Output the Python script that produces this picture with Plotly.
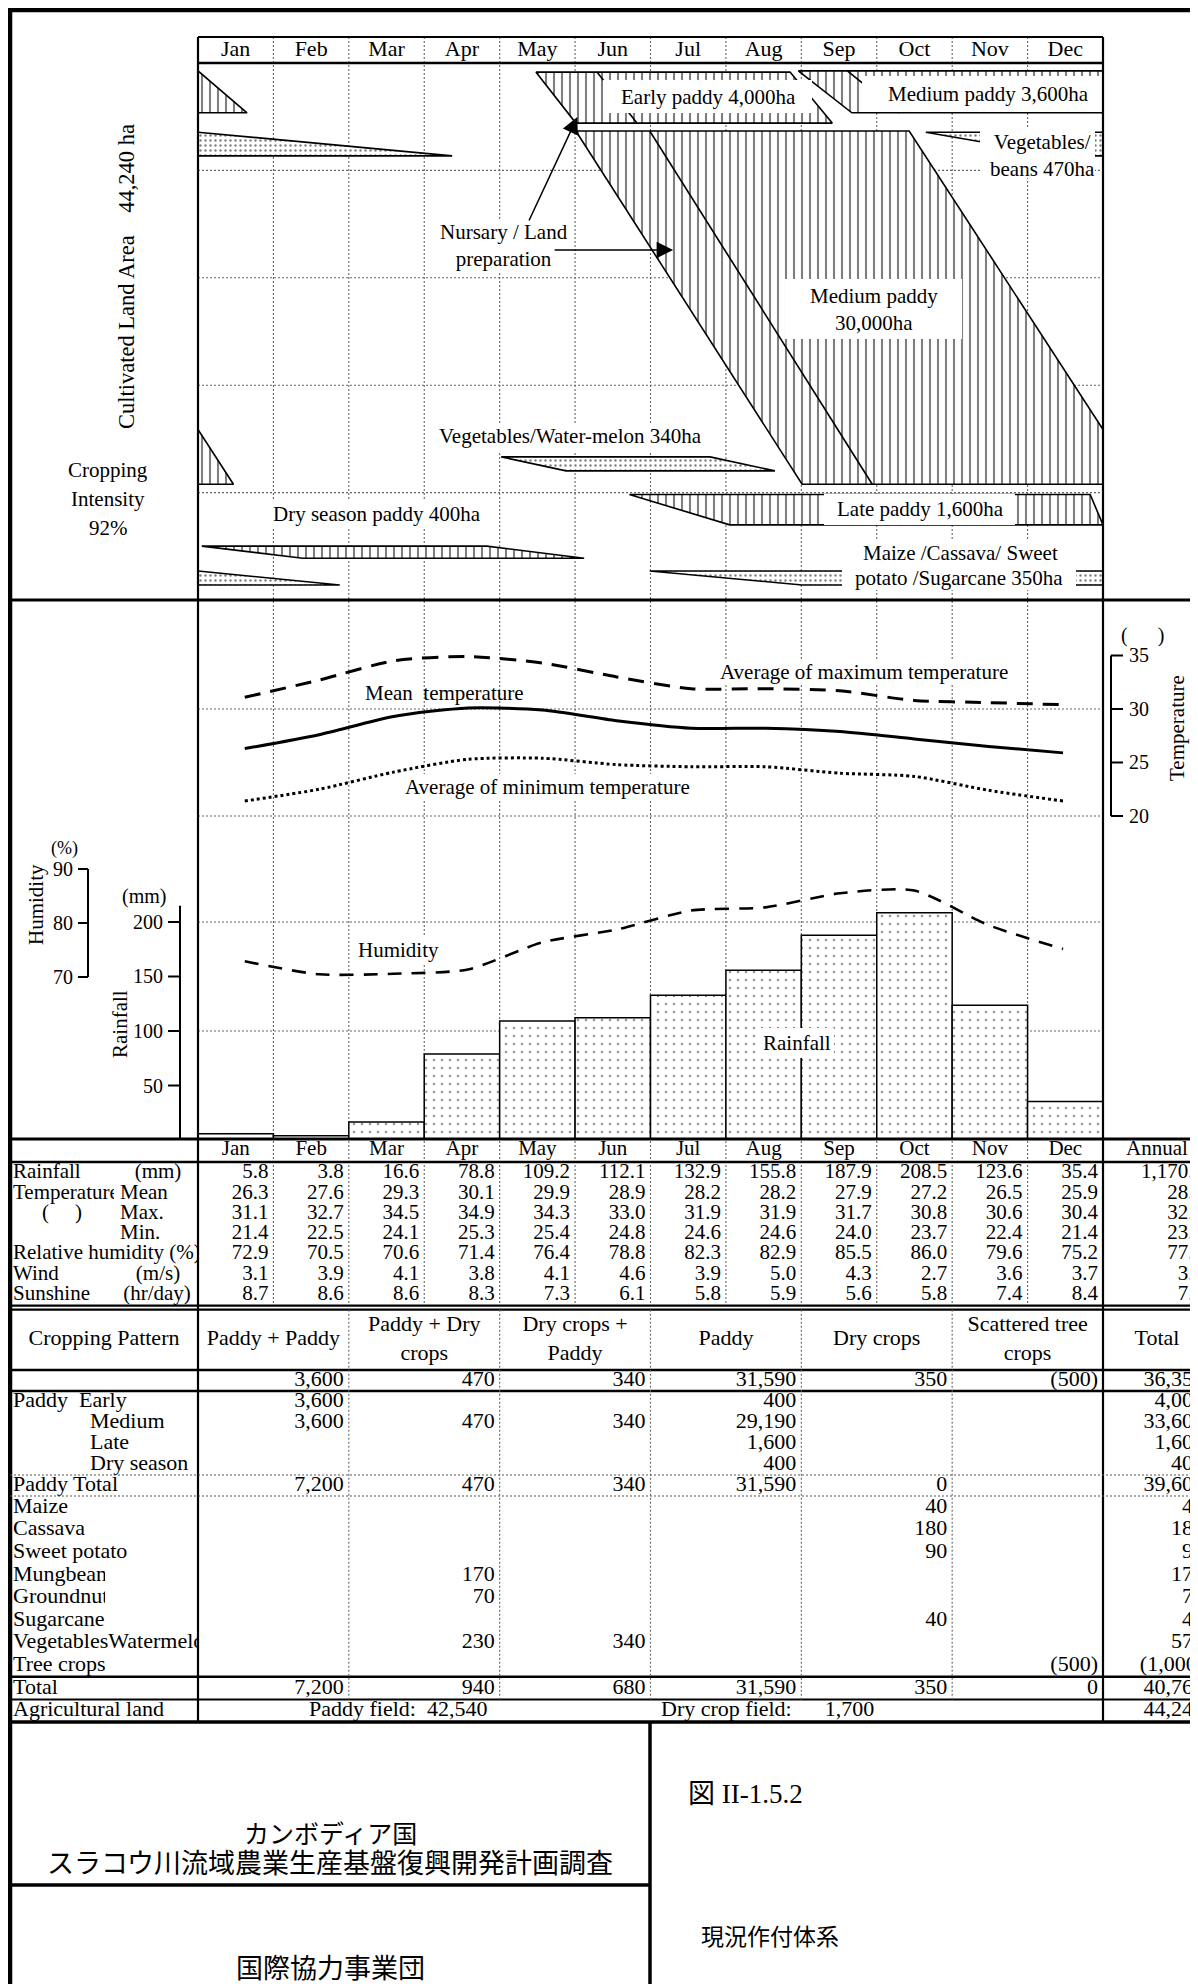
import plotly.graph_objects as go

# page geometry: the figure sits at (8, 8) inside the browser page
OFF = 8
SCREEN_W, SCREEN_H = 1198, 1984
FW, FH = SCREEN_W - OFF, SCREEN_H - OFF
SERIF = "Liberation Serif"
JP = "Noto Sans CJK JP"

# ----------------------------- data -----------------------------
months = ["Jan", "Feb", "Mar", "Apr", "May", "Jun", "Jul", "Aug", "Sep", "Oct", "Nov", "Dec"]

rainfall_mm = [5.8, 3.8, 16.6, 78.8, 109.2, 112.1, 132.9, 155.8, 187.9, 208.5, 123.6, 35.4]
temp_mean = [26.3, 27.6, 29.3, 30.1, 29.9, 28.9, 28.2, 28.2, 27.9, 27.2, 26.5, 25.9]
temp_max = [31.1, 32.7, 34.5, 34.9, 34.3, 33.0, 31.9, 31.9, 31.7, 30.8, 30.6, 30.4]
temp_min = [21.4, 22.5, 24.1, 25.3, 25.4, 24.8, 24.6, 24.6, 24.0, 23.7, 22.4, 21.4]
humidity_pct = [72.9, 70.5, 70.6, 71.4, 76.4, 78.8, 82.3, 82.9, 85.5, 86.0, 79.6, 75.2]
wind_ms = [3.1, 3.9, 4.1, 3.8, 4.1, 4.6, 3.9, 5.0, 4.3, 2.7, 3.6, 3.7]
sunshine_hr = [8.7, 8.6, 8.6, 8.3, 7.3, 6.1, 5.8, 5.9, 5.6, 5.8, 7.4, 8.4]
annual_values = ["1,170.4", "28.0", "32.3", "23.7", "77.7", "3.9", "7.2"]

rain_ticks = [50, 100, 150, 200]
temp_ticks = [20, 25, 30, 35]
hum_ticks = [70, 80, 90]

# crop calendar (x in months from 1 Jan, y in cumulative ha from the top)
cultivated_ha = 44240
crop_names = ["Early paddy", "Medium paddy (P+P)", "Medium paddy", "Vegetables/beans",
              "Vegetables/Water-melon", "Late paddy", "Dry season paddy", "Maize etc."]
crop_top_ha = [750, 650, 5600, 5700, 32450, 35550, 39800, 41850]
crop_bottom_ha = [4950, 4100, 34700, 7650, 33600, 38050, 40800, 43000]
plant_start = [4.48, 7.96, 5.01, 9.65, 4.02, 5.72, 0.05, 5.99]
plant_end = [5.01, 8.67, 8.01, 11.45, 4.88, 7.05, 1.39, 8.01]
harvest_start = [7.85, 12.00, 9.43, 12.00, 6.79, 11.83, 3.83, 12.00]
harvest_end = [8.41, 12.65, 12.47, 15.37, 7.65, 12.00, 5.12, 13.88]
crop_fill = ["stripes", "stripes", "stripes", "dots", "dots", "stripes", "stripes", "dots"]
transplant_top = [5.29, 8.61, 5.99, None, None, None, None, None]
transplant_bottom = [5.82, 9.30, 8.94, None, None, None, None, None]

# cropping pattern table
pattern_headers = ["Paddy + Paddy", "Paddy + Dry<br>crops", "Dry crops +<br>Paddy", "Paddy",
                   "Dry crops", "Scattered tree<br>crops", "Total"]
pattern_area = ["3,600", "470", "340", "31,590", "350", "(500)", "36,350"]
paddy_early = ["3,600", "", "", "400", "", "", "4,000"]
paddy_medium = ["3,600", "470", "340", "29,190", "", "", "33,600"]
paddy_late = ["", "", "", "1,600", "", "", "1,600"]
paddy_dry = ["", "", "", "400", "", "", "400"]
paddy_total = ["7,200", "470", "340", "31,590", "0", "", "39,600"]
maize = ["", "", "", "", "40", "", "40"]
cassava = ["", "", "", "", "180", "", "180"]
sweet_potato = ["", "", "", "", "90", "", "90"]
mungbean = ["", "170", "", "", "", "", "170"]
groundnut = ["", "70", "", "", "", "", "70"]
sugarcane = ["", "", "", "", "40", "", "40"]
veg_watermelon = ["", "230", "340", "", "", "", "570"]
tree_crops = ["", "", "", "", "", "(500)", "(1,000)"]
grand_total = ["7,200", "940", "680", "31,590", "350", "0", "40,760"]
paddy_field_ha = "42,540"
dry_field_ha = "1,700"
agri_land_total = "44,240"

# ----------------------------- layout geometry (screen px) -----------------------------
def PX(x):
    return (x - OFF) / FW


def PY(y):
    return 1 - (y - OFF) / FH


X0, X1 = 198, 1103
MW = (X1 - X0) / 12.0
LEFT = 10
CROP_Y0, CROP_Y1 = 63, 600
CLIM_Y0, CLIM_Y1 = 600, 1140
RAIN_PX = 1.09
RAIN_TOP = (CLIM_Y1 - CLIM_Y0) / RAIN_PX
T_REF_Y, T_PX = 816, 10.7
T_BOT = 20 - (CLIM_Y1 - T_REF_Y) / T_PX
T_TOP = 20 + (T_REF_Y - CLIM_Y0) / T_PX
RH_REF_Y, RH_PX = 923, 5.4
RH_BOT = 80 - (CLIM_Y1 - RH_REF_Y) / RH_PX
RH_TOP = 80 + (RH_REF_Y - CLIM_Y0) / RH_PX
LINE_X0, LINE_X1 = 0.62, 11.47

CT_HEAD_Y = 1150
CT_ROW_H = 20.24
CT_TOP = 1163
CT_ROWS_Y = [CT_TOP + CT_ROW_H * (i + 0.5) for i in range(7)]
CT_BOT = CT_TOP + 7 * CT_ROW_H
CP_HEAD_TOP, CP_HEAD_BOT = CT_BOT + 5, 1370
CP_HEAD_Y = (CP_HEAD_TOP + CP_HEAD_BOT) / 2
CP_ROW = 21.0          # upper block rows
CP_ROW2 = 22.6         # lower block rows
r0 = CP_HEAD_BOT
CP_AREA_Y = r0 + CP_ROW * 0.5
CP_PADDY_Y = [r0 + CP_ROW * (1.5 + i) for i in range(4)]
CP_PTOT_Y = r0 + CP_ROW * 5.5
CB = r0 + CP_ROW * 6
CP_CROP_Y = [CB + CP_ROW2 * (i + 0.5) for i in range(8)]
CB_END = CB + CP_ROW2 * 8
CP_TOT_Y = CB_END + CP_ROW2 * 0.5
CP_AGRI_Y = CB_END + CP_ROW2 * 1.5
TITLE_TOP = CB_END + CP_ROW2 * 2
TITLE_SEP = 1885
ANNUAL_RIGHT = 1204
ANNUAL_CENTER = 1157

fig = go.Figure()
shapes = []
annotations = []

STRIPES = dict(shape="|", size=8, solidity=0.26, fgcolor="black", bgcolor="white")
DOTS = dict(shape=".", size=5, solidity=0.18, fgcolor="black", bgcolor="white")


def hline(y, x0, x1, w=2.0, dash="solid", color="black", layer="above"):
    shapes.append(dict(type="line", xref="paper", yref="paper", x0=PX(x0), x1=PX(x1),
                       y0=PY(y), y1=PY(y), line=dict(color=color, width=w, dash=dash), layer=layer))


def vline(x, y0, y1, w=2.0, dash="solid", color="black", layer="above"):
    shapes.append(dict(type="line", xref="paper", yref="paper", x0=PX(x), x1=PX(x),
                       y0=PY(y0), y1=PY(y1), line=dict(color=color, width=w, dash=dash), layer=layer))


def white_box(x0, y0, x1, y1, layer="above"):
    shapes.append(dict(type="rect", xref="paper", yref="paper", x0=PX(x0), x1=PX(x1),
                       y0=PY(y1), y1=PY(y0), fillcolor="white", line=dict(width=0), layer=layer))


def ann(x, y, text, size=21, family=SERIF, xanchor="center", bg=None, angle=0, pad=1):
    d = dict(x=PX(x), y=PY(y), xref="paper", yref="paper", text=text, showarrow=False,
             font=dict(family=family, size=size, color="black"), xanchor=xanchor, yanchor="middle",
             textangle=angle, borderpad=pad, borderwidth=0)
    if bg:
        d["bgcolor"] = bg
    annotations.append(d)


def txt(xs, ys, texts, pos, size=21, axes=("x5", "y5")):
    fig.add_trace(go.Scatter(x=xs, y=ys, text=texts, mode="text", textposition=pos,
                             textfont=dict(family=SERIF, size=size, color="black"),
                             xaxis=axes[0], yaxis=axes[1], hoverinfo="skip", showlegend=False,
                             cliponaxis=True))


GRID = dict(color="#666", width=1.1, dash="2px,2px")

# ----------------------------- crop calendar -----------------------------
for k in range(1, 12):
    shapes.append(dict(type="line", xref="x", yref="paper", x0=k, x1=k, y0=PY(37), y1=PY(CT_BOT),
                       line=GRID, layer="below"))
for k in range(1, 5):
    shapes.append(dict(type="line", xref="x", yref="y", x0=0, x1=12, y0=k * cultivated_ha / 5,
                       y1=k * cultivated_ha / 5, line=GRID, layer="below"))

for i in range(len(crop_names)):
    xs = [plant_start[i], harvest_start[i], harvest_end[i], plant_end[i], plant_start[i]]
    ys = [crop_top_ha[i], crop_top_ha[i], crop_bottom_ha[i], crop_bottom_ha[i], crop_top_ha[i]]
    shifts = [0, -12] if max(xs) > 12 else [0]
    pat = STRIPES if crop_fill[i] == "stripes" else DOTS
    for s in shifts:
        fig.add_trace(go.Scatter(x=[v + s for v in xs], y=ys, mode="lines", fill="toself",
                                 fillcolor="white", fillpattern=pat,
                                 line=dict(color="black", width=1.6),
                                 xaxis="x", yaxis="y", hoverinfo="skip", showlegend=False))
    if transplant_top[i] is not None:
        fig.add_trace(go.Scatter(x=[transplant_top[i], transplant_bottom[i]],
                                 y=[crop_top_ha[i], crop_bottom_ha[i]], mode="lines",
                                 line=dict(color="black", width=1.6), xaxis="x", yaxis="y",
                                 hoverinfo="skip", showlegend=False))

# ----------------------------- climate -----------------------------
centers = [k + 0.5 for k in range(12)]
line_x = [LINE_X0 + k * (LINE_X1 - LINE_X0) / 11 for k in range(12)]
for t in (20, 30):
    shapes.append(dict(type="line", xref="x", yref="y3", x0=0, x1=12, y0=t, y1=t, line=GRID, layer="below"))
for r in (100, 200):
    shapes.append(dict(type="line", xref="x", yref="y2", x0=0, x1=12, y0=r, y1=r, line=GRID, layer="below"))

fig.add_trace(go.Bar(x=centers, y=rainfall_mm, width=1.0,
                     marker=dict(color="white", line=dict(color="black", width=1.5),
                                 pattern=dict(shape=".", size=8, solidity=0.07, fgcolor="#222", bgcolor="white")),
                     xaxis="x", yaxis="y2", hoverinfo="skip", showlegend=False))
fig.add_trace(go.Scatter(x=line_x, y=humidity_pct, mode="lines", xaxis="x", yaxis="y4",
                         line=dict(color="black", width=2.6, dash="14px,10px", shape="spline", smoothing=0.7),
                         hoverinfo="skip", showlegend=False))
fig.add_trace(go.Scatter(x=line_x, y=temp_max, mode="lines", xaxis="x", yaxis="y3",
                         line=dict(color="black", width=3, dash="16px,10px", shape="spline", smoothing=0.7),
                         hoverinfo="skip", showlegend=False))
fig.add_trace(go.Scatter(x=line_x, y=temp_mean, mode="lines", xaxis="x", yaxis="y3",
                         line=dict(color="black", width=3, shape="spline", smoothing=0.7),
                         hoverinfo="skip", showlegend=False))
fig.add_trace(go.Scatter(x=line_x, y=temp_min, mode="lines", xaxis="x", yaxis="y3",
                         line=dict(color="black", width=3, dash="3px,3px", shape="spline", smoothing=0.7),
                         hoverinfo="skip", showlegend=False))


def axis_line(x, yref, v0, v1):
    shapes.append(dict(type="line", xref="paper", yref=yref, x0=PX(x), x1=PX(x), y0=v0, y1=v1,
                       line=dict(color="black", width=2)))


def axis_tick(x0, x1, yref, v):
    shapes.append(dict(type="line", xref="paper", yref=yref, x0=PX(x0), x1=PX(x1), y0=v, y1=v,
                       line=dict(color="black", width=2)))


def tick_label(x, yref, v, text, xanchor):
    annotations.append(dict(x=PX(x), xref="paper", y=v, yref=yref, text=text, showarrow=False,
                            xanchor=xanchor, yanchor="middle", font=dict(family=SERIF, size=20, color="black")))


axis_line(180, "y2", 0, 215)
for r in rain_ticks:
    axis_tick(168, 180, "y2", r)
    tick_label(165, "y2", r, str(r), "right")
axis_line(88, "y4", hum_ticks[0], hum_ticks[-1])
for h in hum_ticks:
    axis_tick(78, 88, "y4", h)
    tick_label(75, "y4", h, str(h), "right")
axis_line(1111, "y3", temp_ticks[0], temp_ticks[-1])
for t in temp_ticks:
    axis_tick(1111, 1123, "y3", t)
    tick_label(1127, "y3", t, str(t), "left")

# ----------------------------- label boxes in the crop calendar -----------------------------
white_box(603, 80, 812, 113)      # Early paddy
white_box(862, 76, 1102, 112)     # Medium paddy 3,600
white_box(980, 127, 1095, 178)    # Vegetables/beans
white_box(785, 279, 962, 339)     # Medium paddy 30,000
white_box(824, 494, 1015, 525)    # Late paddy
white_box(842, 566, 1076, 590)    # Maize ...
white_box(434, 425, 702, 451, layer="below")   # Vegetables/Water-melon (text drawn on top)

# ----------------------------- frame lines -----------------------------
hline(10, LEFT - 2, SCREEN_W + 5, w=4.5)
vline(LEFT, 8, SCREEN_H + 5, w=4.5)
hline(37, X0, X1, w=2)
hline(63, X0, X1, w=2.5)
vline(X0, 37, TITLE_TOP, w=2.2)
vline(X1, 37, TITLE_TOP, w=2.2)
hline(600, LEFT, SCREEN_W + 5, w=3)
hline(1139, LEFT, SCREEN_W + 5, w=3)
hline(1162, LEFT, SCREEN_W + 5, w=2.5)
hline(CT_BOT + 1, LEFT, SCREEN_W + 5, w=2.2)
hline(CT_BOT + 5, LEFT, SCREEN_W + 5, w=2.2)
hline(CP_HEAD_BOT, LEFT, SCREEN_W + 5, w=2.5)
hline(r0 + CP_ROW, LEFT, SCREEN_W + 5, w=2.5)
hline(r0 + CP_ROW * 5, LEFT, SCREEN_W + 5, w=1.2, dash="2px,2px", color="#555")
hline(CB, LEFT, SCREEN_W + 5, w=1.2, dash="2px,2px", color="#555")
hline(CB_END, LEFT, SCREEN_W + 5, w=2.5)
hline(CB_END + CP_ROW2, LEFT, SCREEN_W + 5, w=2.0)
hline(TITLE_TOP, LEFT, SCREEN_W + 5, w=3.5)
hline(TITLE_SEP, LEFT, 650, w=3.5)
vline(650, TITLE_TOP, SCREEN_H + 5, w=3.5)
for j in range(1, 6):
    vline(X0 + 2 * j * MW, CT_BOT + 5, CB_END + CP_ROW2, w=1.1, dash="2px,2px", color="#666")

# ----------------------------- top section text -----------------------------
txt([X0 + (k + 0.5) * MW for k in range(12)], [50] * 12, months, "middle center", size=22)

ann(127, 277, "Cultivated Land Area" + "\u00a0" * 4 + "44,240 ha", size=22.5, angle=-90)
ann(108, 470, "Cropping")
ann(108, 499, "Intensity")
ann(108, 528, "92%")

ann(708, 97, "Early paddy 4,000ha")
ann(988, 94, "Medium paddy 3,600ha")
ann(1042, 155, "Vegetables/<br>beans 470ha")
ann(874, 309, "Medium paddy<br>30,000ha")
ann(504, 245, "Nursary / Land<br>preparation", bg="white", pad=0)
txt([439], [438], ["Vegetables/Water-melon 340ha"], "middle right", size=21, axes=("x9", "y9"))
ann(920, 509, "Late paddy 1,600ha")
ann(272, 514, "Dry season paddy 400ha", xanchor="left", bg="white", pad=1)
ann(960, 553, "Maize /Cassava/ Sweet", bg="white", pad=1)
ann(959, 578, "potato /Sugarcane 350ha")

annotations.append(dict(x=5.03, y=4450, xref="x", yref="y", ax=-49, ay=105, text="", showarrow=True,
                        arrowhead=2, arrowsize=2.2, arrowwidth=1.5, arrowcolor="black"))
annotations.append(dict(x=6.30, y=15400, xref="x", yref="y", ax=-120, ay=0, text="", showarrow=True,
                        arrowhead=2, arrowsize=2.2, arrowwidth=1.5, arrowcolor="black"))

# ----------------------------- climate text -----------------------------
ann(719, 672, "Average of maximum temperature", xanchor="left", bg="white", pad=1)
ann(364, 693, "Mean\u00a0\u00a0temperature", xanchor="left")
ann(404, 787, "Average of minimum temperature", xanchor="left", bg="white", pad=1)
ann(357, 950, "Humidity", xanchor="left", bg="white", pad=1)
ann(797, 1043, "Rainfall", bg="white", pad=3)
ann(64, 848, "(%)", size=18)
ann(144, 896, "(mm)", size=20)
ann(36, 905, "Humidity", angle=-90)
ann(120, 1024, "Rainfall", angle=-90)
ann(1142, 635, "(\u00a0\u00a0\u00a0\u00a0\u00a0\u00a0)", size=20)
ann(1177, 728, "Temperature", angle=-90)

# ----------------------------- climate table -----------------------------
txt([X0 + (k + 0.5) * MW for k in range(12)] + [ANNUAL_CENTER], [CT_HEAD_Y] * 13,
    months + ["Annual"], "middle center", size=21)
climate_rows = [rainfall_mm, temp_mean, temp_max, temp_min, humidity_pct, wind_ms, sunshine_hr]
for r, row in enumerate(climate_rows):
    xs = [X0 + (k + 1) * MW - 5 for k in range(12)] + [ANNUAL_RIGHT]
    vals = [f"{v:.1f}" for v in row] + [annual_values[r]]
    txt(xs, [CT_ROWS_Y[r]] * 13, vals, "middle left", size=21)

LBL = ("x6", "y6")
LBL_A = ("x7", "y7")
LBL_B = ("x8", "y8")
txt([13, 13, 13, 13], [CT_ROWS_Y[0], CT_ROWS_Y[4], CT_ROWS_Y[5], CT_ROWS_Y[6]],
    ["Rainfall", "Relative humidity (%)", "Wind", "Sunshine"], "middle right", size=21, axes=LBL)
txt([13], [CT_ROWS_Y[1]], ["Temperature"], "middle right", size=21, axes=LBL_A)
txt([120, 120, 120], [CT_ROWS_Y[1], CT_ROWS_Y[2], CT_ROWS_Y[3]], ["Mean", "Max.", "Min."],
    "middle right", size=21, axes=LBL)
txt([158, 62, 158, 157], [CT_ROWS_Y[0], CT_ROWS_Y[2], CT_ROWS_Y[5], CT_ROWS_Y[6]],
    ["(mm)", "(\u00a0\u00a0\u00a0\u00a0\u00a0)", "(m/s)", "(hr/day)"], "middle center", size=21, axes=LBL)

# ----------------------------- cropping pattern table -----------------------------
CS = 22
col_centers = [X0 + (2 * j + 1) * MW for j in range(6)] + [ANNUAL_CENTER]
col_rights = [X0 + 2 * (j + 1) * MW - 5 for j in range(6)] + [ANNUAL_RIGHT]
txt([104], [CP_HEAD_Y], ["Cropping Pattern"], "middle center", size=CS, axes=LBL)
txt(col_centers, [CP_HEAD_Y] * 7, pattern_headers, "middle center", size=CS)

table_rows = [(CP_AREA_Y, pattern_area)]
table_rows += list(zip(CP_PADDY_Y, [paddy_early, paddy_medium, paddy_late, paddy_dry]))
table_rows += [(CP_PTOT_Y, paddy_total)]
table_rows += list(zip(CP_CROP_Y, [maize, cassava, sweet_potato, mungbean, groundnut, sugarcane,
                                   veg_watermelon, tree_crops]))
table_rows += [(CP_TOT_Y, grand_total)]
for y, vals in table_rows:
    xs = [col_rights[j] for j in range(7) if vals[j]]
    tv = [vals[j] for j in range(7) if vals[j]]
    txt(xs, [y] * len(xs), tv, "middle left", size=CS)

txt([13, 90, 90, 90], CP_PADDY_Y, ["Paddy\u00a0\u00a0Early", "Medium", "Late", "Dry season"],
    "middle right", size=CS, axes=LBL)
txt([13], [CP_PTOT_Y], ["Paddy Total"], "middle right", size=CS, axes=LBL)
other_labels = ["Maize", "Cassava", "Sweet potato", "", "", "Sugarcane", "VegetablesWatermelon", "Tree crops"]
txt([13] * 8, CP_CROP_Y, other_labels, "middle right", size=CS, axes=LBL)
txt([13, 13], [CP_CROP_Y[3], CP_CROP_Y[4]], ["Mungbean", "Groundnut"], "middle right", size=CS, axes=LBL_B)
txt([13, 13], [CP_TOT_Y, CP_AGRI_Y], ["Total", "Agricultural land"], "middle right", size=CS, axes=LBL)
txt([309, 661], [CP_AGRI_Y] * 2,
    ["Paddy field:\u00a0\u00a0" + paddy_field_ha, "Dry crop field:" + "\u00a0" * 6 + dry_field_ha],
    "middle right", size=CS)
txt([ANNUAL_RIGHT], [CP_AGRI_Y], [agri_land_total], "middle left", size=CS)

# ----------------------------- title block -----------------------------
ann(330, 1832, "カンボディア国", size=25, family=JP)
ann(330, 1861, "スラコウ川流域農業生産基盤復興開発計画調査", size=27, family=JP)
ann(330, 1966, "国際協力事業団", size=27, family=JP)
ann(687, 1794, "図 II-1.5.2", size=27, family=SERIF + ", " + JP, xanchor="left")
ann(700, 1935, "現況作付体系", size=23, family=JP, xanchor="left")

# ----------------------------- layout -----------------------------
fig.update_layout(
    width=FW, height=FH, margin=dict(l=0, r=0, t=0, b=0),
    paper_bgcolor="white", plot_bgcolor="rgba(0,0,0,0)", showlegend=False,
    xaxis=dict(domain=[PX(X0), PX(X1)], range=[0, 12], visible=False, anchor="y", fixedrange=True),
    yaxis=dict(domain=[PY(CROP_Y1), PY(CROP_Y0)], range=[cultivated_ha, 0], visible=False, anchor="x"),
    yaxis2=dict(domain=[PY(CLIM_Y1), PY(CLIM_Y0)], range=[0, RAIN_TOP], visible=False, anchor="x"),
    yaxis3=dict(overlaying="y2", range=[T_BOT, T_TOP], visible=False, anchor="x"),
    yaxis4=dict(overlaying="y2", range=[RH_BOT, RH_TOP], visible=False, anchor="x"),
    xaxis5=dict(domain=[0, 1], range=[OFF, SCREEN_W], visible=False, anchor="y5"),
    yaxis5=dict(domain=[0, 1], range=[SCREEN_H, OFF], visible=False, anchor="x5"),
    xaxis6=dict(domain=[PX(LEFT), PX(X0)], range=[LEFT, X0], visible=False, anchor="y6"),
    yaxis6=dict(domain=[0, 1], range=[SCREEN_H, OFF], visible=False, anchor="x6"),
    xaxis7=dict(domain=[PX(LEFT), PX(114)], range=[LEFT, 114], visible=False, anchor="y7"),
    yaxis7=dict(domain=[0, 1], range=[SCREEN_H, OFF], visible=False, anchor="x7"),
    xaxis8=dict(domain=[PX(LEFT), PX(105)], range=[LEFT, 105], visible=False, anchor="y8"),
    yaxis8=dict(domain=[0, 1], range=[SCREEN_H, OFF], visible=False, anchor="x8"),
    xaxis9=dict(domain=[PX(434), PX(702)], range=[434, 702], visible=False, anchor="y9"),
    yaxis9=dict(domain=[0, 1], range=[SCREEN_H, OFF], visible=False, anchor="x9"),
    shapes=shapes, annotations=annotations,
)

fig.write_html("out.html")
